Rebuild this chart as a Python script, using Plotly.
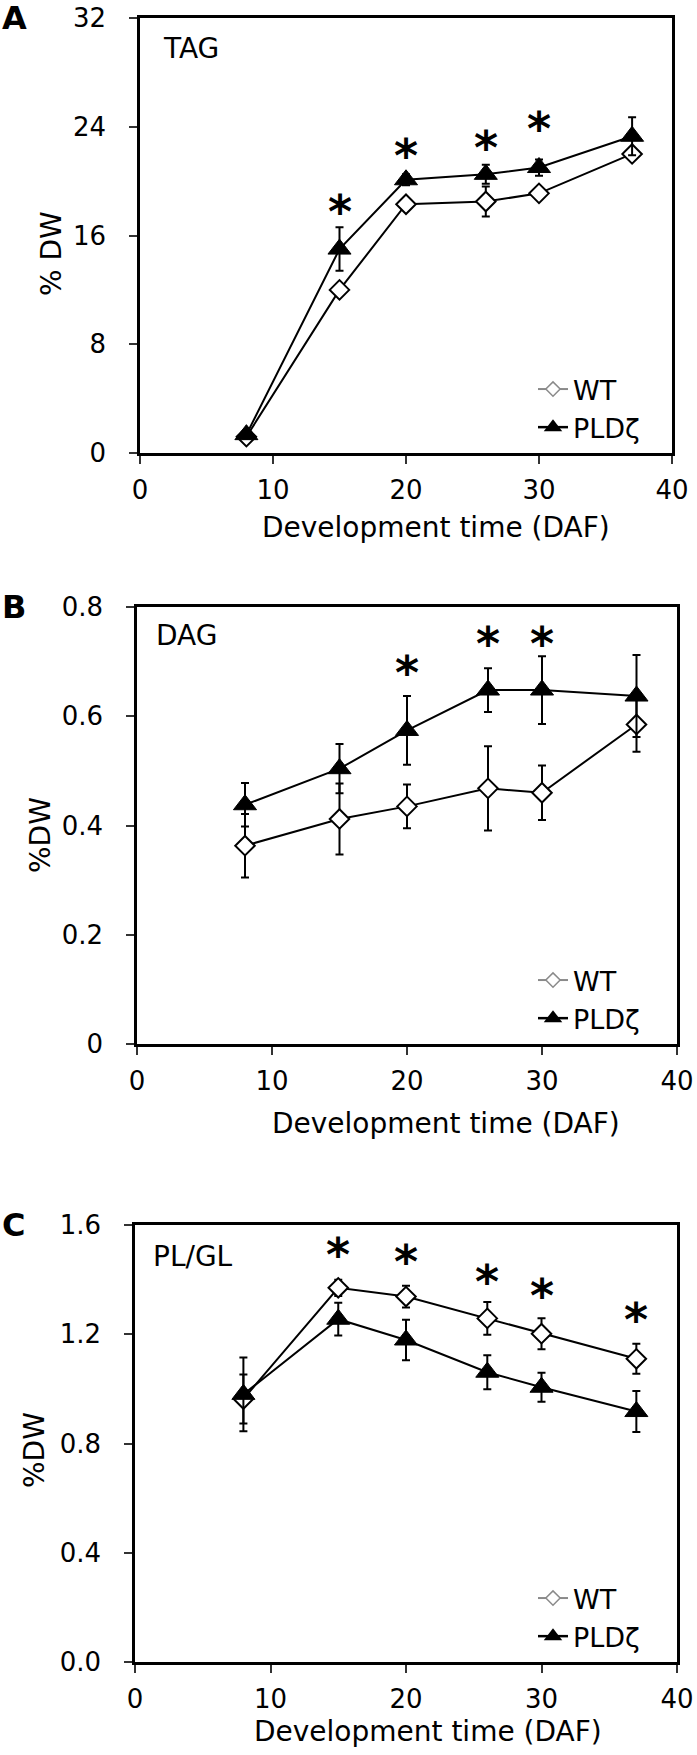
import plotly.graph_objects as go

# ---------------- data ----------------
days = [8, 15, 20, 26, 30, 37]

tag_wt = [1.2, 12.0, 18.3, 18.5, 19.1, 22.0]
tag_wt_err = [0.2, 0.3, 0.3, 1.1, 0.4, 0.4]
tag_pld = [1.35, 15.0, 20.1, 20.5, 21.0, 23.3]
tag_pld_err = [0.3, 1.6, 0.4, 0.7, 0.6, 1.4]
tag_star_x = [15, 20, 26, 30]
tag_star_y = [18.5, 22.6, 23.2, 24.6]

dag_wt = [0.363, 0.412, 0.435, 0.468, 0.460, 0.585]
dag_wt_err = [0.058, 0.065, 0.040, 0.077, 0.050, 0.050]
dag_pld = [0.438, 0.504, 0.574, 0.648, 0.648, 0.637]
dag_pld_err = [0.040, 0.045, 0.063, 0.040, 0.062, 0.075]
dag_star_x = [20, 26, 30]
dag_star_y = [0.697, 0.751, 0.751]

plgl_wt = [0.963, 1.370, 1.338, 1.258, 1.202, 1.110]
plgl_wt_err = [0.09, 0.03, 0.04, 0.06, 0.057, 0.055]
plgl_pld = [0.980, 1.255, 1.179, 1.061, 1.006, 0.917]
plgl_pld_err = [0.135, 0.06, 0.074, 0.062, 0.053, 0.075]
plgl_star_x = [15, 20, 26, 30, 37]
plgl_star_y = [1.528, 1.500, 1.430, 1.377, 1.288]

x_ticks = [0, 10, 20, 30, 40]
tag_ticks = [0, 8, 16, 24, 32]
tag_ticktext = ["0", "8", "16", "24", "32"]
dag_ticks = [0, 0.2, 0.4, 0.6, 0.8]
dag_ticktext = ["0", "0.2", "0.4", "0.6", "0.8"]
plgl_ticks = [0, 0.4, 0.8, 1.2, 1.6]
plgl_ticktext = ["0.0", "0.4", "0.8", "1.2", "1.6"]

panel_letters = ["A", "B", "C"]
panel_names = ["TAG", "DAG", "PL/GL"]
y_titles = ["% DW", "%DW", "%DW"]
x_title = "Development time (DAF)"
series_names = ["WT", "PLDζ"]

# ---------------- layout geometry (pixels) ----------------
W, H = 697, 1755
FONT = "DejaVu Sans, Liberation Sans, Arial, sans-serif"

panels = [
    dict(wt=tag_wt, wte=tag_wt_err, pld=tag_pld, plde=tag_pld_err,
         sx=tag_star_x, sy=tag_star_y, ymax=32, tv=tag_ticks, tt=tag_ticktext,
         box=(140, 672, 18, 453), xt=(436, 527), yt=(51, 254), lab=(161, 48),
         leg_bottom=452),
    dict(wt=dag_wt, wte=dag_wt_err, pld=dag_pld, plde=dag_pld_err,
         sx=dag_star_x, sy=dag_star_y, ymax=0.8, tv=dag_ticks, tt=dag_ticktext,
         box=(137, 677, 607, 1044), xt=(446, 1123), yt=(40, 835), lab=(154, 635),
         leg_bottom=1043),
    dict(wt=plgl_wt, wte=plgl_wt_err, pld=plgl_pld, plde=plgl_pld_err,
         sx=plgl_star_x, sy=plgl_star_y, ymax=1.6, tv=plgl_ticks, tt=plgl_ticktext,
         box=(135, 677, 1225, 1662), xt=(428, 1731), yt=(34, 1450), lab=(151, 1256),
         leg_bottom=1661),
]


def px(x):
    return x / W


def py(y):
    return 1 - y / H


fig = go.Figure()
annotations = []
layout = dict(
    width=W, height=H,
    margin=dict(l=0, r=0, t=0, b=0),
    paper_bgcolor="white", plot_bgcolor="white",
    font=dict(family=FONT, color="black"),
    showlegend=True,
)

STAR_FS = 46

for i, p in enumerate(panels):
    n = "" if i == 0 else str(i + 1)
    xa, ya = "x" + n, "y" + n
    leg = "legend" + n
    l, r, t, b = p["box"]

    axis_common = dict(
        showline=True, linecolor="black", linewidth=2.5, mirror=True,
        ticks="outside", ticklen=8, tickwidth=1.5, tickcolor="#333",
        showgrid=False, zeroline=False, automargin=False,
        tickfont=dict(family=FONT, size=26, color="black"),
    )
    layout["xaxis" + n] = dict(
        axis_common, domain=[px(l), px(r)], range=[0, 40],
        tickvals=x_ticks, ticktext=[str(v) for v in x_ticks],
        anchor=ya, ticklabelstandoff=4,
    )
    layout["yaxis" + n] = dict(
        axis_common, domain=[py(b), py(t)], range=[0, p["ymax"]],
        tickvals=p["tv"], ticktext=p["tt"], anchor=xa, ticklabelstandoff=18,
    )

    # data traces
    fig.add_trace(go.Scatter(
        x=days, y=p["wt"], mode="lines+markers", name=series_names[0],
        xaxis=xa, yaxis=ya, showlegend=False, cliponaxis=False,
        line=dict(color="black", width=2),
        marker=dict(symbol="diamond", size=15, color="white",
                    line=dict(color="black", width=2)),
        error_y=dict(type="data", array=p["wte"], visible=True,
                     color="black", thickness=2, width=4),
    ))
    fig.add_trace(go.Scatter(
        x=days, y=p["pld"], mode="lines+markers", name=series_names[1],
        xaxis=xa, yaxis=ya, showlegend=False, cliponaxis=False,
        line=dict(color="black", width=2),
        marker=dict(symbol="triangle-up", size=20, color="black",
                    line=dict(color="black", width=1)),
        error_y=dict(type="data", array=p["plde"], visible=True,
                     color="black", thickness=2, width=4),
    ))
    # legend entries
    fig.add_trace(go.Scatter(
        x=[None], y=[None], mode="lines+markers", name=series_names[0],
        xaxis=xa, yaxis=ya, legend=leg,
        line=dict(color="#8a8a8a", width=2),
        marker=dict(symbol="diamond", size=11, color="white",
                    line=dict(color="#8a8a8a", width=1.5)),
    ))
    fig.add_trace(go.Scatter(
        x=[None], y=[None], mode="lines+markers", name=series_names[1],
        xaxis=xa, yaxis=ya, legend=leg,
        line=dict(color="black", width=2.5),
        marker=dict(symbol="triangle-up", size=16, color="black"),
    ))
    layout[leg] = dict(
        x=px(533), xanchor="left", y=py(p["leg_bottom"]), yanchor="bottom",
        bgcolor="rgba(0,0,0,0)", borderwidth=0,
        font=dict(family=FONT, size=27, color="black"),
        tracegroupgap=0,
    )

    # significance asterisks
    for sx, sy in zip(p["sx"], p["sy"]):
        annotations.append(dict(
            x=sx, y=sy, xref=xa, yref=ya, text="*", showarrow=False,
            xanchor="center", yanchor="middle", yshift=-0.22 * STAR_FS,
            font=dict(family=FONT, size=STAR_FS, color="black", weight="bold"),
        ))

    # panel letter
    annotations.append(dict(
        x=0, y=py(t), xref="paper", yref="paper", text=panel_letters[i],
        showarrow=False, xanchor="left", yanchor="middle",
        font=dict(family=FONT, size=32, color="black", weight="bold"),
    ))
    # panel name
    annotations.append(dict(
        x=px(p["lab"][0]), y=py(p["lab"][1]), xref="paper", yref="paper",
        text=panel_names[i], showarrow=False, xanchor="left", yanchor="middle",
        font=dict(family=FONT, size=28, color="black"),
    ))
    # axis titles
    annotations.append(dict(
        x=px(p["xt"][0]), y=py(p["xt"][1]), xref="paper", yref="paper",
        text=x_title, showarrow=False, xanchor="center", yanchor="middle",
        font=dict(family=FONT, size=28, color="black"),
    ))
    annotations.append(dict(
        x=px(p["yt"][0]), y=py(p["yt"][1]), xref="paper", yref="paper",
        text=y_titles[i], showarrow=False, xanchor="center", yanchor="middle",
        textangle=-90, font=dict(family=FONT, size=28, color="black"),
    ))

layout["annotations"] = annotations
fig.update_layout(**layout)
fig.write_html(
    "out.html",
    config={"displayModeBar": False},
    post_script="document.body.style.margin='0px';document.body.style.overflow='hidden';",
)
